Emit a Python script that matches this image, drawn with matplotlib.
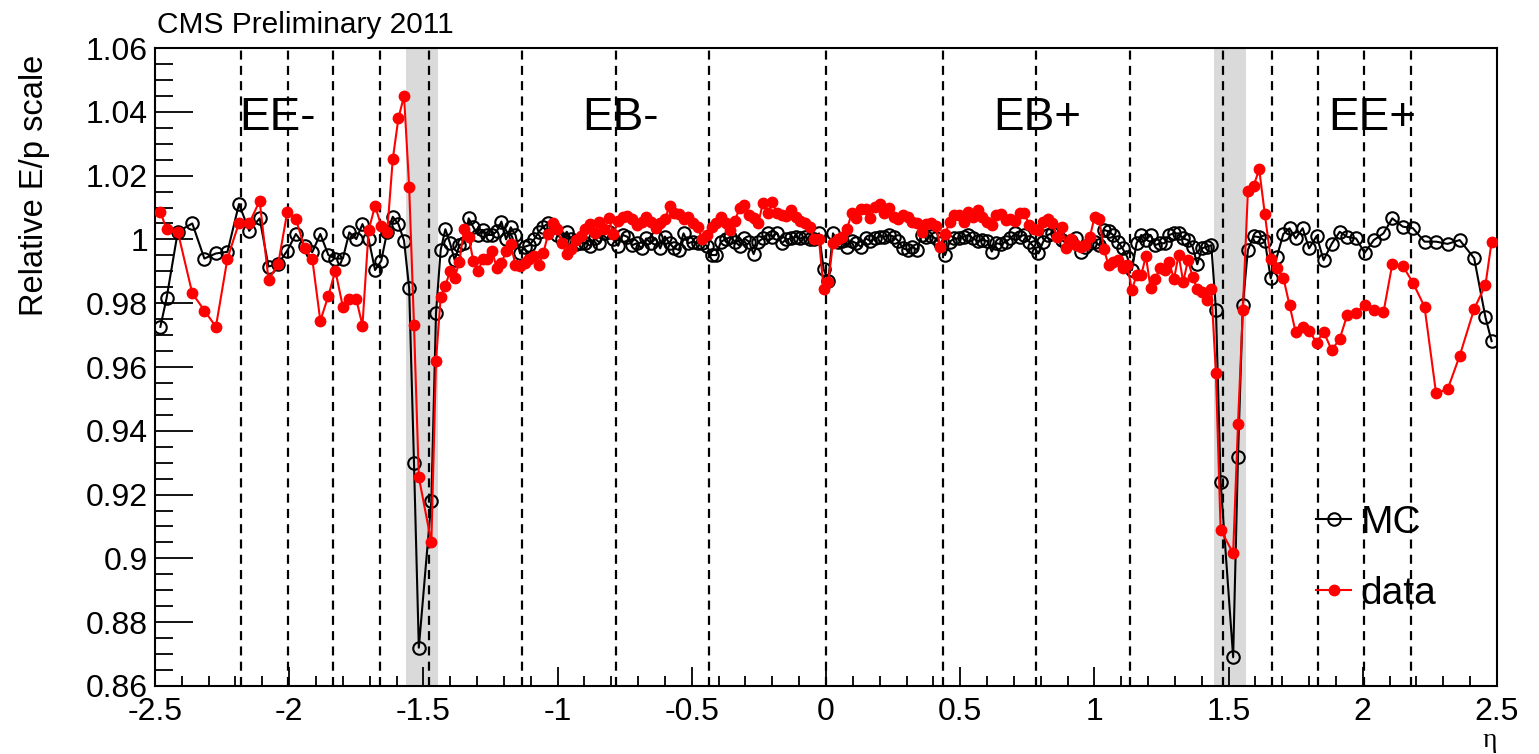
import numpy as np
import matplotlib.pyplot as plt
from matplotlib.ticker import MultipleLocator, FuncFormatter

plt.rcParams['font.family'] = ['Liberation Sans', 'DejaVu Sans']
plt.rcParams['lines.scale_dashes'] = False

# |eta| of the endcap bins, same on both sides
ee_abs_eta = [1.517, 1.535, 1.553, 1.572, 1.593, 1.614, 1.635, 1.657, 1.680, 1.704, 1.727,
              1.750, 1.776, 1.800, 1.828, 1.854, 1.884, 1.914, 1.942, 1.975, 2.007, 2.041,
              2.077, 2.110, 2.149, 2.187, 2.230, 2.273, 2.316, 2.361, 2.415, 2.457, 2.480]
# barrel: one bin per crystal ring, 85 rings on each side
ring_width = 0.0174
eb_abs_eta = (np.arange(85) + 0.5) * ring_width

# EE- from eta=-2.48 up to -1.52
mc_ee_minus = [0.9726, 0.9815, 1.0024, 1.0050, 0.9940, 0.9956, 0.9961, 1.0111, 1.0027, 1.0066, 0.9915,
               0.9923, 0.9965, 1.0017, 0.9980, 0.9960, 1.0017, 0.9951, 0.9940, 0.9940, 1.0022, 1.0001,
               1.0048, 1.0001, 0.9904, 0.9933, 1.0024, 1.0071, 1.0048, 0.9996, 0.9847, 0.9300, 0.8720]
data_ee_minus = [1.0087, 1.0032, 1.0024, 0.9831, 0.9777, 0.9726, 0.9940, 1.0052, 1.0050, 1.0121, 0.9873,
                 0.9923, 1.0087, 1.0064, 0.9972, 0.9939, 0.9745, 0.9823, 0.9902, 0.9789, 0.9812, 0.9813,
                 0.9730, 1.0029, 1.0105, 1.0043, 1.0022, 1.0252, 1.0380, 1.0450, 1.0165, 0.9732, 0.9255]

# EB- from eta=-1.47 up to 0
mc_eb_minus = [0.9180, 0.9770,
               0.9967, 1.0032, 0.9988, 0.9935, 0.9982, 0.9988, 1.0066, 1.0038, 1.0014, 1.0030,
               1.0014, 1.0014, 1.0025, 1.0056, 1.0000, 1.0038, 1.0014, 0.9956, 0.9977, 0.9982,
               1.0000, 1.0024, 1.0040, 1.0050, 1.0040, 1.0014, 1.0000, 1.0024, 1.0000, 0.9985,
               0.9990, 0.9990, 0.9980, 1.0003, 0.9990, 1.0019, 1.0024, 1.0000, 0.9980, 1.0014, 1.0008,
               0.9982, 0.9988, 0.9972, 1.0003, 0.9988, 1.0003, 0.9972, 1.0009, 0.9988, 0.9972,
               0.9967, 1.0019, 0.9988, 0.9993, 0.9988, 0.9988, 0.9980, 0.9951, 0.9951, 0.9993,
               1.0000, 1.0008, 0.9993, 0.9980, 1.0003, 0.9993, 0.9954, 0.9993, 1.0003, 1.0019,
               1.0009, 1.0020, 0.9988, 1.0000, 1.0003, 1.0008, 1.0003, 1.0008, 1.0000, 1.0000, 1.0019, 0.9906]
data_eb_minus = [0.9050, 0.9620,
                 0.9820, 0.9855, 0.9900, 0.9880, 0.9930, 1.0032, 1.0007, 0.9932, 0.9900, 0.9938,
                 0.9939, 0.9964, 0.9910, 0.9925, 0.9964, 0.9985, 0.9920, 0.9918, 0.9927, 0.9939,
                 0.9948, 0.9920, 0.9958, 1.0017, 1.0050, 1.0032, 0.9988, 0.9954, 0.9969, 0.9998,
                 1.0011, 1.0033, 1.0048, 1.0021, 1.0056, 1.0033, 1.0066, 1.0016, 1.0059, 1.0071, 1.0073,
                 1.0065, 1.0045, 1.0056, 1.0071, 1.0056, 1.0035, 1.0050, 1.0063, 1.0105, 1.0082,
                 1.0079, 1.0063, 1.0071, 1.0052, 1.0040, 1.0000, 1.0014, 1.0040, 1.0052, 1.0069,
                 1.0050, 1.0029, 1.0058, 1.0099, 1.0108, 1.0076, 1.0066, 1.0050, 1.0115, 1.0084,
                 1.0116, 1.0084, 1.0076, 1.0073, 1.0092, 1.0069, 1.0059, 1.0052, 1.0038, 1.0000, 1.0000, 0.9844]

# EB+ from eta=0 up to 1.47
mc_eb_plus = [0.9870,
              1.0019, 0.9993, 0.9995, 0.9977, 0.9995, 0.9988, 0.9977, 1.0003, 0.9995, 1.0003,
              1.0009, 1.0009, 1.0014, 1.0009, 0.9995, 0.9972, 0.9967, 0.9977, 0.9967, 1.0014,
              1.0009, 1.0011, 1.0003, 0.9988, 0.9951, 0.9993, 1.0003, 1.0003, 1.0009, 1.0014,
              1.0003, 0.9995, 0.9998, 0.9995, 0.9962, 0.9988, 0.9985, 0.9993, 1.0003, 1.0019, 1.0009,
              1.0014, 0.9993, 0.9977, 0.9956, 0.9993, 1.0014, 1.0020, 1.0019, 0.9998, 0.9988,
              0.9995, 1.0003, 0.9962, 0.9977, 0.9988, 0.9993, 0.9982, 1.0030, 1.0025, 1.0014,
              0.9993, 0.9972, 0.9945, 0.9904, 0.9988, 1.0014, 0.9998, 1.0014, 0.9982, 0.9988,
              0.9988, 1.0014, 1.0019, 1.0019, 1.0003, 0.9998, 0.9977, 0.9922, 0.9972, 0.9977, 0.9982,
              0.9780, 0.9240]
data_eb_plus = [0.9867,
                0.9988, 1.0000, 1.0007, 1.0032, 1.0082, 1.0066, 1.0094, 1.0094, 1.0068, 1.0103,
                1.0111, 1.0082, 1.0097, 1.0069, 1.0063, 1.0076, 1.0069, 1.0056, 1.0050, 1.0024,
                1.0048, 1.0052, 1.0042, 0.9977, 1.0017, 1.0056, 1.0076, 1.0076, 1.0056, 1.0085,
                1.0071, 1.0092, 1.0069, 1.0056, 1.0045, 1.0076, 1.0079, 1.0061, 1.0063, 1.0059, 1.0082,
                1.0082, 1.0045, 1.0032, 1.0030, 1.0056, 1.0063, 1.0050, 1.0008, 1.0040, 0.9972,
                1.0000, 0.9982, 0.9977, 0.9982, 1.0008, 1.0069, 1.0063, 0.9969, 0.9920, 0.9930,
                0.9935, 0.9910, 0.9920, 0.9841, 0.9888, 0.9888, 0.9948, 0.9847, 0.9875, 0.9910,
                0.9904, 0.9930, 0.9875, 0.9951, 0.9867, 0.9935, 0.9883, 0.9844, 0.9836, 0.9810, 0.9844,
                0.9580, 0.9090]

# EE+ from eta=1.52 up to 2.48
mc_ee_plus = [0.8690, 0.9319, 0.9794, 0.9967, 1.0010, 1.0007, 0.9996, 0.9878, 0.9946, 1.0017, 1.0035,
              1.0003, 1.0035, 0.9972, 1.0011, 0.9935, 0.9986, 1.0024, 1.0008, 1.0003, 0.9958, 0.9998,
              1.0019, 1.0066, 1.0040, 1.0035, 0.9993, 0.9993, 0.9986, 0.9998, 0.9941, 0.9756, 0.9681]
data_ee_plus = [0.9016, 0.9420, 0.9780, 1.0153, 1.0167, 1.0220, 1.0080, 0.9938, 0.9911, 0.9880, 0.9794,
                0.9709, 0.9726, 0.9714, 0.9676, 0.9711, 0.9653, 0.9688, 0.9763, 0.9770, 0.9794, 0.9779,
                0.9771, 0.9923, 0.9917, 0.9864, 0.9789, 0.9518, 0.9530, 0.9635, 0.9782, 0.9857, 0.9993]

# module / ring boundaries drawn as dashed lines
eb_edges = [0.435, 0.783, 1.131, 1.479]
ee_edges = [1.66, 1.835, 2.005, 2.18]
gap_lo, gap_hi = 1.4442, 1.566

regions = ['EE-', 'EB-', 'EB+', 'EE+']
region_eta = [-2.044, -0.767, 0.786, 2.034]

ee_eta = np.array(ee_abs_eta)
eta = np.concatenate([-ee_eta[::-1], -eb_abs_eta[::-1], eb_abs_eta, ee_eta])
mc = np.concatenate([mc_ee_minus, mc_eb_minus, mc_eb_plus, mc_ee_plus])
data = np.concatenate([data_ee_minus, data_eb_minus, data_eb_plus, data_ee_plus])

fig = plt.figure(figsize=(15.39, 7.54), dpi=100)
ax = fig.add_axes([0.1007, 0.0902, 0.872, 0.8461])

for s in (-1, 1):
    ax.axvspan(s * gap_lo, s * gap_hi, color='#dadada', lw=0, zorder=0)
ax.axvline(0, color='k', lw=1.6, dashes=(6.5, 4.5), zorder=1)
for e in eb_edges + ee_edges:
    ax.axvline(-e, color='k', lw=1.6, dashes=(6.5, 4.5), zorder=1)
    ax.axvline(e, color='k', lw=1.6, dashes=(6.5, 4.5), zorder=1)

ax.plot(eta, mc, color='k', lw=1.5, marker='o', ms=9, mfc='none', mec='k', mew=1.5,
        zorder=3, label='MC')
ax.plot(eta, data, color='red', lw=1.5, marker='o', ms=7.5, mfc='red', mec='red',
        zorder=4, label='data')

for name, x in zip(regions, region_eta):
    ax.text(x, 1.0343, name, ha='center', va='baseline', fontsize=33)

ax.set_xlim(-2.5, 2.5)
ax.set_ylim(0.86, 1.06)
ax.xaxis.set_major_locator(MultipleLocator(0.5))
ax.xaxis.set_minor_locator(MultipleLocator(0.1))
ax.yaxis.set_major_locator(MultipleLocator(0.02))
ax.yaxis.set_minor_locator(MultipleLocator(0.005))
fmt = FuncFormatter(lambda v, p: '%g' % round(v, 3))
ax.xaxis.set_major_formatter(fmt)
ax.yaxis.set_major_formatter(fmt)
ax.tick_params(which='both', direction='in', top=False, right=False, width=1.3, labelsize=23)
ax.tick_params(axis='y', which='major', length=27, pad=5)
ax.tick_params(axis='y', which='minor', length=13)
ax.tick_params(axis='x', which='major', length=14, pad=8)
ax.tick_params(axis='x', which='minor', length=7)
for sp in ax.spines.values():
    sp.set_linewidth(1.5)

ax.legend(loc='upper left', bbox_to_anchor=(1316 / 1539, 1 - 505 / 754),
          bbox_transform=fig.transFigure, frameon=False, fontsize=28,
          handlelength=0.9, handletextpad=0.25, labelspacing=0.9,
          borderpad=0, borderaxespad=0)

fig.text(157 / 1539, 1 - 33 / 754, 'CMS Preliminary 2011', fontsize=21.5, ha='left', va='baseline')
fig.text(35 / 1539, 1 - 55 / 754, 'Relative E/p scale', fontsize=23.5, rotation=90,
         ha='center', va='top')
fig.text(1497 / 1539, 1 / 754, 'η', fontsize=20, ha='right', va='bottom',
         family=['Liberation Serif', 'DejaVu Serif'])

fig.savefig('out.png', dpi=100)
